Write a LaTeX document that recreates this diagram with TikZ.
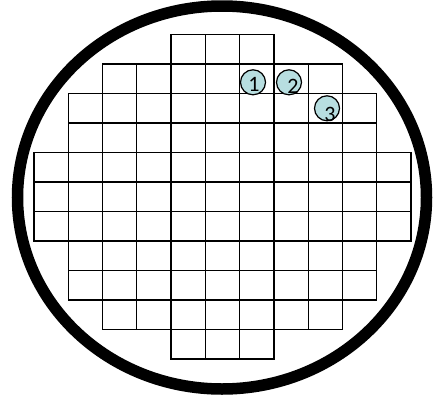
\documentclass[tikz,border=0pt]{standalone}
\usepackage{fontspec}
\newfontfamily\numfont{Carlito}
\definecolor{cyanfill}{RGB}{183,222,224}
\begin{document}
\begin{tikzpicture}[x=1pt,y=-1pt,
  cell/.style={draw=black,line width=1.3pt},
  wafer/.style={draw=black,line width=11.5pt},
  die/.style={circle,draw=black,line width=1.2pt,fill=cyanfill,minimum size=25pt,inner sep=0pt},
  num/.style={font=\numfont\fontsize{22}{22}\selectfont,inner sep=0pt,anchor=base}]
\useasboundingbox (0,0) rectangle (444,399);
\draw[wafer] (222,197.5) ellipse [x radius=204.5pt, y radius=191.5pt];
\foreach \r/\a/\b in {0/4/6,1/2/8,2/1/9,3/1/9,4/0/10,5/0/10,6/0/10,7/1/9,8/1/9,9/2/8,10/4/6}{
  \foreach \c in {\a,...,\b}{
    \draw[cell] ({34+34.27*\c},{34.5+29.5*\r}) rectangle ++(34.27,29.5);
  }
}
\node[die] (c1) at (253,82.3) {};
\node[die] (c2) at (289,82.3) {};
\node[die] (c3) at (327,108.3) {};
\node[num] (n1) at (254,91.7) {1};
\node[num] (n2) at (293,93) {2};
\node[num] (n3) at (330,121.5) {3};
\end{tikzpicture}
\end{document}
